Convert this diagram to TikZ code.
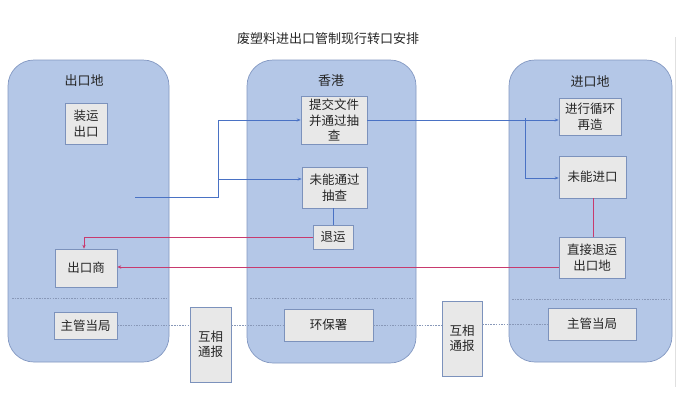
\documentclass[tikz,border=0pt]{standalone}
\usepackage{fontspec}
\setmainfont{Noto Sans CJK SC}
\usetikzlibrary{arrows.meta}
\definecolor{panelfill}{HTML}{B4C7E7}
\definecolor{paneldraw}{HTML}{8398C2}
\definecolor{boxfill}{HTML}{E8E8E8}
\definecolor{boxdraw}{HTML}{7C92BC}
\definecolor{bluearrow}{HTML}{4A72C4}
\definecolor{redarrow}{HTML}{C83A6E}
\definecolor{dotline}{HTML}{8898B8}
\tikzset{
  panel/.style={draw=paneldraw, fill=panelfill, rounded corners=26pt, line width=0.7pt},
  box/.style={draw=boxdraw, fill=boxfill, line width=0.6pt, inner sep=0pt, align=center,
    font=\fontsize{12.5}{15.5}\selectfont, text=black!85},
  lbl/.style={font=\fontsize{13}{16}\selectfont, text=black!85, inner sep=0pt},
  bl/.style={draw=bluearrow, line width=0.6pt},
  bla/.style={bl, -{Stealth[length=4pt,width=3pt]}},
  rd/.style={draw=redarrow, line width=0.9pt},
  rda/.style={rd, -{Stealth[length=4pt,width=3.4pt]}},
  dotted line/.style={draw=dotline, line width=0.9pt, dash pattern=on 1.5pt off 1.2pt},
}
\begin{document}
\begin{tikzpicture}[x=1pt,y=-1pt]
\useasboundingbox (0,0) rectangle (677,394);
\fill[white] (0,0) rectangle (677,394);
\draw[black!12, line width=0.8pt] (675,37) -- (675,387);

% title
\node[lbl] (title) at (328,39) {废塑料进出口管制现行转口安排};

% panels
\draw[panel] (8,60) rectangle (169,362);
\draw[panel] (247,60) rectangle (416,363);
\draw[panel] (509,60) rectangle (672,362);

% separators
\draw[dotted line] (12,298) -- (166,298);
\draw[dotted line] (250,298) -- (413,298);
\draw[dotted line] (512,299) -- (669,299);

% panel labels
\node[lbl] (l1) at (84,81) {出口地};
\node[lbl] (l2) at (331,81) {香港};
\node[lbl] (l3) at (590,81) {进口地};

% boxes
\node[box, minimum width=42pt, minimum height=41pt] (zhuangyun) at (86,123.5) {装运\\出口};
\node[box, minimum width=62pt, minimum height=38pt] (chukoushang) at (86,268) {出口商};
\node[box, minimum width=63pt, minimum height=27pt] (zg1) at (85.5,325.5) {主管当局};
\node[box, minimum width=41pt, minimum height=75pt] (hx1) at (210.5,344.5) {互相\\通报};

\node[box, minimum width=66pt, minimum height=48pt] (tijiao) at (334,120) {提交文件\\并通过抽\\查};
\node[box, minimum width=65pt, minimum height=41pt] (weineng) at (334.5,187.5) {未能通过\\抽查};
\node[box, minimum width=40pt, minimum height=24pt] (tuiyun) at (333,237) {退运};
\node[box, minimum width=89pt, minimum height=32pt] (hbs) at (328.5,325) {环保署};
\node[box, minimum width=40pt, minimum height=75pt] (hx2) at (462,338.5) {互相\\通报};

\node[box, minimum width=62pt, minimum height=37pt] (xunhuan) at (590,117) {进行循环\\再造};
\node[box, minimum width=67pt, minimum height=42pt] (weijinkou) at (592.5,177) {未能进口};
\node[box, minimum width=66pt, minimum height=41pt] (zhijie) at (592,257.5) {直接退运\\出口地};
\node[box, minimum width=88pt, minimum height=32pt] (zg2) at (592,324) {主管当局};

% blue connectors
\coordinate (start) at (135,197);
\coordinate (j1) at (218,197);
\coordinate (j2) at (218,120);
\coordinate (j3) at (218,179);
\draw[bl] (start) -- (j1) -- (j2);
\draw[bla] (j2) -- (tijiao.west |- j2);
\draw[bla] (j3) -- (weineng.west |- j3);
\draw[bl] (weineng.south -| tuiyun.north) -- (tuiyun.north);
\draw[bla] (tijiao.east |- j2) -- (xunhuan.west |- j2);
\coordinate (k1) at (525,118);
\coordinate (k2) at (525,178);
\draw[bla] (k1) -- (k2) -- (weijinkou.west |- k2);

% red connectors
\coordinate (r1) at (84,237);
\draw[rda] (tuiyun.west) -- (r1) -- (r1 |- chukoushang.north);
\draw[rd] (weijinkou.south -| 593,0) -- (zhijie.north -| 593,0);
\draw[rda] (zhijie.west |- 0,267) -- (chukoushang.east |- 0,267);

% dotted liaison lines
\draw[dotted line] (zg1.east) -- (hx1.west |- zg1.east);
\draw[dotted line] (hx1.east |- hbs.west) -- (hbs.west);
\draw[dotted line] (hbs.east) -- (hx2.west |- hbs.east);
\draw[dotted line] (hx2.east |- zg2.west) -- (zg2.west);
\end{tikzpicture}
\end{document}
